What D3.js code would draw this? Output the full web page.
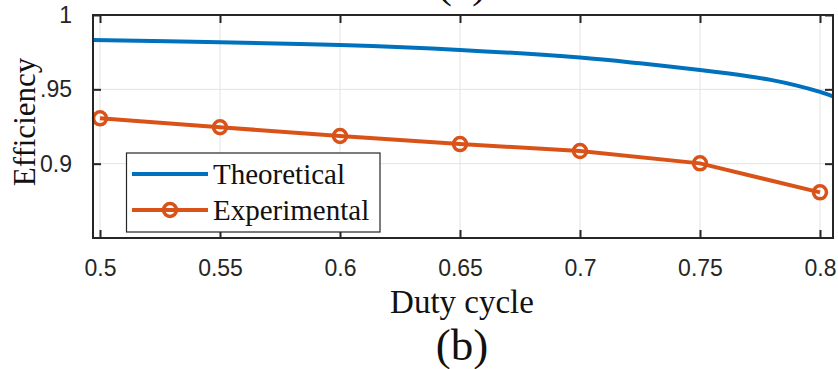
<!DOCTYPE html>
<html>
<head>
<meta charset="utf-8">
<script src="https://cdn.jsdelivr.net/npm/d3@7"></script>
<style>
  html, body { margin: 0; padding: 0; background: #fff; }
  svg { display: block; }
</style>
</head>
<body>
<svg id="chart" width="838" height="369"></svg>
<script>
// Efficiency vs duty cycle: theoretical curve and measured points
const dutyTheory = [0.497, 0.55, 0.6, 0.65, 0.7, 0.725, 0.75, 0.77, 0.78, 0.79, 0.8, 0.806];
const effTheory  = [0.9832, 0.9816, 0.9798, 0.9765, 0.9714, 0.9675, 0.9630, 0.9588, 0.9562, 0.9527, 0.9483, 0.9450];

const dutyMeasured = [0.5, 0.55, 0.6, 0.65, 0.7, 0.75, 0.8];
const effMeasured  = [0.9305, 0.9245, 0.9186, 0.9132, 0.9085, 0.9002, 0.8807];

const xTicks = [0.5, 0.55, 0.6, 0.65, 0.7, 0.75, 0.8];
const xTickLabels = ["0.5", "0.55", "0.6", "0.65", "0.7", "0.75", "0.8"];
const yTicks = [0.9, 0.95, 1];
const yTickLabels = ["0.9", ".95", "1"];

const seriesNames = ["Theoretical", "Experimental"];
const seriesColors = ["#0072BD", "#D95319"];

const svg = d3.select("#chart");
const plotLeft = 93, plotRight = 833, plotTop = 15, plotBottom = 238;
const axisColor = "#262626";
const sans = "'Liberation Sans', Arial, sans-serif";
const serif = "'Liberation Serif', 'Times New Roman', serif";

const x = d3.scaleLinear().domain([0.49708, 0.80542]).range([plotLeft, plotRight]);
const y = d3.scaleLinear().domain([0.85, 1]).range([plotBottom, plotTop]);

svg.append("clipPath").attr("id", "plotclip")
  .append("rect").attr("x", plotLeft).attr("y", plotTop)
  .attr("width", plotRight - plotLeft).attr("height", plotBottom - plotTop);

// grid
const grid = svg.append("g").attr("stroke", "#e3e3e3").attr("stroke-width", 1);
grid.selectAll("line.vx").data(xTicks).join("line")
  .attr("x1", d => x(d)).attr("x2", d => x(d))
  .attr("y1", plotTop).attr("y2", plotBottom);
grid.selectAll("line.hy").data(yTicks).join("line")
  .attr("x1", plotLeft).attr("x2", plotRight)
  .attr("y1", d => y(d)).attr("y2", d => y(d));

// axes (inward ticks on all four sides)
const tickLen = 8;
const xAxisB = d3.axisBottom(x).tickValues(xTicks).tickSizeInner(-tickLen).tickSizeOuter(0)
  .tickFormat((d, i) => xTickLabels[i]).tickPadding(22);
const xAxisT = d3.axisTop(x).tickValues(xTicks).tickSizeInner(-tickLen).tickSizeOuter(0).tickFormat("");
const yAxisL = d3.axisLeft(y).tickValues(yTicks).tickSizeInner(-tickLen).tickSizeOuter(0)
  .tickFormat((d, i) => yTickLabels[i]).tickPadding(21);
const yAxisR = d3.axisRight(y).tickValues(yTicks).tickSizeInner(-tickLen).tickSizeOuter(0).tickFormat("");

function styleAxis(g) {
  g.select(".domain").remove();
  g.selectAll(".tick line").attr("stroke", axisColor).attr("stroke-width", 2);
  g.selectAll(".tick text").attr("fill", axisColor)
    .style("font-family", sans).style("font-size", "23px");
}
svg.append("g").attr("transform", `translate(0,${plotBottom})`).call(xAxisB).call(styleAxis);
svg.append("g").attr("transform", `translate(0,${plotTop})`).call(xAxisT).call(styleAxis);
svg.append("g").attr("transform", `translate(${plotLeft},0)`).call(yAxisL).call(styleAxis);
svg.append("g").attr("transform", `translate(${plotRight},0)`).call(yAxisR).call(styleAxis);

// data lines
const plot = svg.append("g").attr("clip-path", "url(#plotclip)");
const line = d3.line().x(d => x(d[0])).y(d => y(d[1]));
const theory = d3.zip(dutyTheory, effTheory);
const measured = d3.zip(dutyMeasured, effMeasured);

plot.append("path").datum(theory)
  .attr("d", d3.line().curve(d3.curveCatmullRom).x(d => x(d[0])).y(d => y(d[1])))
  .attr("fill", "none").attr("stroke", seriesColors[0]).attr("stroke-width", 4);
plot.append("path").datum(measured).attr("d", line)
  .attr("fill", "none").attr("stroke", seriesColors[1]).attr("stroke-width", 4);
svg.append("g").selectAll("circle").data(measured).join("circle")
  .attr("cx", d => x(d[0])).attr("cy", d => y(d[1])).attr("r", 6.5)
  .attr("fill", "none").attr("stroke", seriesColors[1]).attr("stroke-width", 3.5);

// plot box
svg.append("rect").attr("x", plotLeft).attr("y", plotTop)
  .attr("width", plotRight - plotLeft).attr("height", plotBottom - plotTop)
  .attr("fill", "none").attr("stroke", axisColor).attr("stroke-width", 2);

// legend
const lg = svg.append("g");
lg.append("rect").attr("x", 126.5).attr("y", 153).attr("width", 253.5).attr("height", 79)
  .attr("fill", "#fff").attr("stroke", axisColor).attr("stroke-width", 1.2);
const rowsY = [174, 210];
seriesNames.forEach((name, i) => {
  lg.append("line").attr("x1", 132).attr("x2", 208).attr("y1", rowsY[i]).attr("y2", rowsY[i])
    .attr("stroke", seriesColors[i]).attr("stroke-width", 4);
  if (i === 1) {
    lg.append("circle").attr("cx", 170).attr("cy", rowsY[i]).attr("r", 6.5)
      .attr("fill", "none").attr("stroke", seriesColors[i]).attr("stroke-width", 3.5);
  }
  lg.append("text").attr("x", 213).attr("y", rowsY[i]).attr("dy", "0.33em")
    .style("font-family", serif).style("font-size", "29px").attr("fill", "#111")
    .text(name);
});

// axis titles and panel captions
svg.append("text").attr("transform", "translate(35,122) rotate(-90)")
  .attr("text-anchor", "middle").style("font-family", serif).style("font-size", "31px")
  .attr("fill", "#111").text("Efficiency");
svg.append("text").attr("x", 462).attr("y", 313).attr("text-anchor", "middle")
  .style("font-family", serif).style("font-size", "33px").attr("fill", "#111").text("Duty cycle");
svg.append("text").attr("x", 462).attr("y", 360).attr("text-anchor", "middle")
  .style("font-family", serif).style("font-size", "45px").attr("fill", "#111").text("(b)");
svg.append("text").attr("x", 462).attr("y", -3).attr("text-anchor", "middle")
  .style("font-family", serif).style("font-size", "45px").attr("fill", "#111").text("(a)");
</script>
</body>
</html>
